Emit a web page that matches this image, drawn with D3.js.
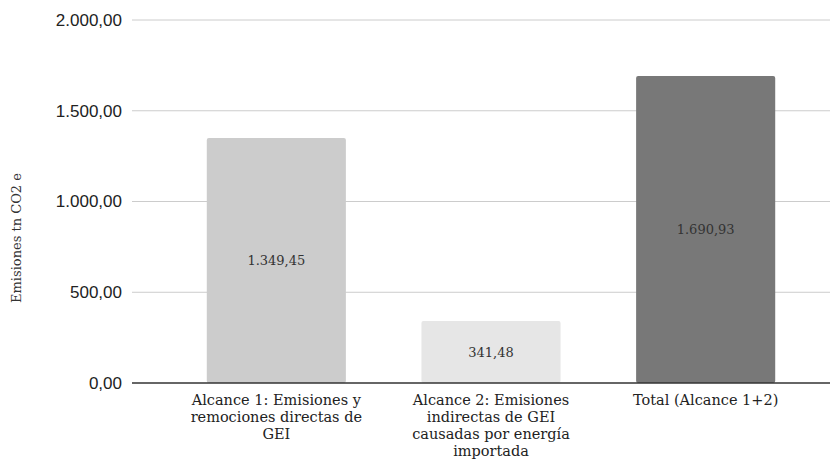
<!DOCTYPE html>
<html>
<head>
<meta charset="utf-8">
<script src="https://cdn.jsdelivr.net/npm/d3@7"></script>
<style>
  body { margin: 0; background: #fff; }
  svg { display: block; }
</style>
</head>
<body>
<div id="chart"></div>
<script>
// datos
const categories = ["alcance1", "alcance2", "total"];
const categoryLines = [
  ["Alcance 1: Emisiones y", "remociones directas de", "GEI"],
  ["Alcance 2: Emisiones", "indirectas de GEI", "causadas por energía", "importada"],
  ["Total (Alcance 1+2)"]
];
const values = [1349.45, 341.48, 1690.93];
const barColors = ["#cccccc", "#e6e6e6", "#787878"];
const yTicks = [0, 500, 1000, 1500, 2000];
const yTitle = "Emisiones tn CO2 e";

const width = 839, height = 461;
const serif = "'DejaVu Serif', 'Liberation Serif', serif";
const fmt = d3.formatLocale({ decimal: ",", thousands: ".", grouping: [3], currency: ["", ""] }).format(",.2f");

const svg = d3.select("#chart").append("svg")
  .attr("width", width)
  .attr("height", height);

const x = d3.scaleBand()
  .domain(categories)
  .range([169, 813])
  .paddingInner(0.352)
  .paddingOuter(0.176);

const y = d3.scaleLinear()
  .domain([0, 2000])
  .range([383, 20]);

// grid
svg.append("g")
  .selectAll("line")
  .data(yTicks.filter(d => d > 0))
  .enter()
  .append("line")
  .attr("x1", 132)
  .attr("x2", 830)
  .attr("y1", d => y(d))
  .attr("y2", d => y(d))
  .attr("stroke", "#cccccc")
  .attr("stroke-width", 1);

// y axis labels
const yAxis = svg.append("g")
  .attr("transform", "translate(122,0)")
  .call(d3.axisLeft(y).tickValues(yTicks).tickSize(0).tickPadding(0).tickFormat(fmt));
yAxis.select(".domain").remove();
yAxis.selectAll("text")
  .attr("font-family", "'Liberation Sans', Arial, sans-serif")
  .attr("font-size", 17)
  .attr("fill", "#222");

// bars
svg.selectAll(".bar")
  .data(values)
  .enter()
  .append("rect")
  .attr("class", "bar")
  .attr("x", (d, i) => x(categories[i]))
  .attr("y", d => y(d))
  .attr("width", x.bandwidth())
  .attr("height", d => y(0) - y(d))
  .attr("rx", 2)
  .attr("fill", (d, i) => barColors[i]);

// value labels
svg.selectAll(".val")
  .data(values)
  .enter()
  .append("text")
  .attr("class", "val")
  .attr("x", (d, i) => x(categories[i]) + x.bandwidth() / 2)
  .attr("y", d => (y(d) + y(0)) / 2)
  .attr("dy", "0.35em")
  .attr("text-anchor", "middle")
  .attr("font-family", serif)
  .attr("font-size", 13)
  .attr("fill", "#333")
  .text(d => fmt(d));

// baseline
svg.append("line")
  .attr("x1", 132)
  .attr("x2", 830)
  .attr("y1", y(0))
  .attr("y2", y(0))
  .attr("stroke", "#333")
  .attr("stroke-width", 1.5);

// category labels
const xl = svg.append("g");
categories.forEach((c, i) => {
  const t = xl.append("text")
    .attr("x", x(c) + x.bandwidth() / 2)
    .attr("y", 405)
    .attr("text-anchor", "middle")
    .attr("font-family", serif)
    .attr("font-size", 14.5)
    .attr("fill", "#222");
  categoryLines[i].forEach((line, j) => {
    t.append("tspan")
      .attr("x", x(c) + x.bandwidth() / 2)
      .attr("dy", j === 0 ? 0 : 17)
      .text(line);
  });
});

// y title
svg.append("text")
  .attr("transform", "translate(21,238) rotate(-90)")
  .attr("text-anchor", "middle")
  .attr("font-family", serif)
  .attr("font-size", 13)
  .attr("fill", "#333")
  .text(yTitle);
</script>
</body>
</html>
